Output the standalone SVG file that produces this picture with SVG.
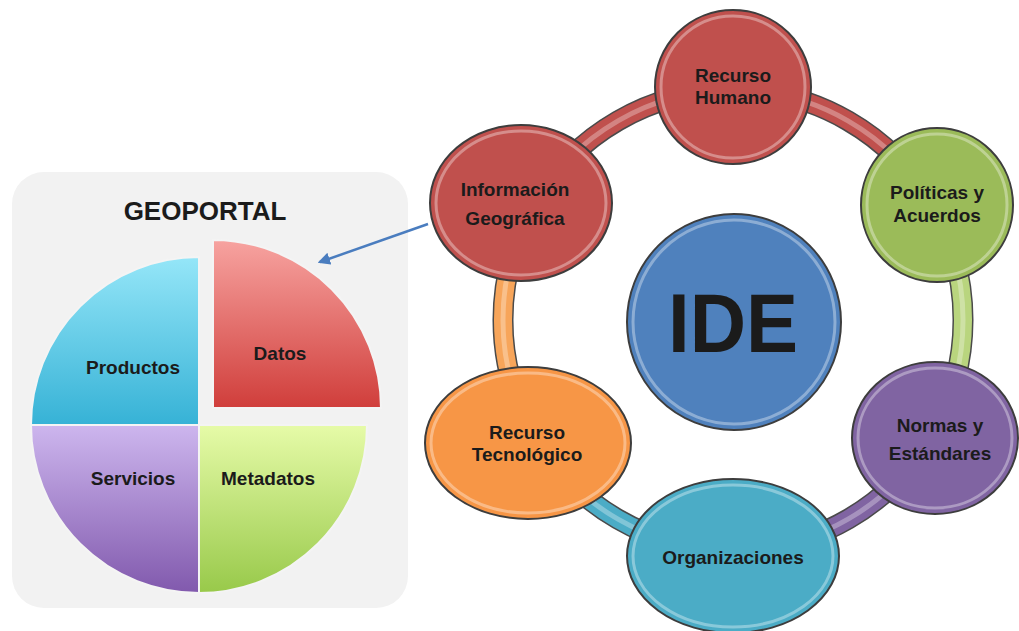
<svg xmlns="http://www.w3.org/2000/svg" width="1019" height="631" viewBox="0 0 1019 631">
<defs>
<style>
.lbl{font-family:"Liberation Sans",Arial,sans-serif;font-weight:bold;fill:#1b1b1b;text-anchor:middle}
.node{stroke:#3d3d3d;stroke-width:2}
.hl{fill:none;stroke:#ffffff;stroke-opacity:0.35;stroke-width:3}
.slice{stroke:#f4f4f4;stroke-width:2}
.bandOut{fill:none;stroke:#4a4a4a;stroke-width:21}
.band{fill:none;stroke-width:18}
.bandHl{fill:none;stroke:#ffffff;stroke-opacity:0.3;stroke-width:5}
</style>
<linearGradient id="gProd" x1="0" y1="0" x2="0" y2="1"><stop offset="0" stop-color="#95e6f8"/><stop offset="1" stop-color="#36b2d6"/></linearGradient>
<linearGradient id="gDatos" x1="0" y1="0" x2="0" y2="1"><stop offset="0" stop-color="#f7a3a0"/><stop offset="1" stop-color="#d03e3b"/></linearGradient>
<linearGradient id="gServ" x1="0" y1="0" x2="0" y2="1"><stop offset="0" stop-color="#cdb6ee"/><stop offset="1" stop-color="#8159ad"/></linearGradient>
<linearGradient id="gMeta" x1="0" y1="0" x2="0" y2="1"><stop offset="0" stop-color="#e6fba8"/><stop offset="1" stop-color="#98c94a"/></linearGradient>
<marker id="arr" viewBox="0 0 10 10" refX="8" refY="5" markerWidth="5" markerHeight="5" orient="auto"><path d="M0,0 L10,5 L0,10 Z" fill="#4a7dbf"/></marker>
</defs>
<rect width="1019" height="631" fill="#ffffff"/>

<g id="geoportal">
<rect x="12" y="172" width="396" height="436" rx="32" fill="#f2f2f2"/>
<text class="lbl" x="205" y="220" font-size="26">GEOPORTAL</text>
</g>

<g id="productos">
<path class="slice" d="M199,425 L31,425 A168,168 0 0 1 199,257 Z" fill="url(#gProd)"/>
<text class="lbl" x="133" y="374" font-size="19">Productos</text>
</g>
<g id="datos">
<path class="slice" d="M213,408 L213,240 A168,168 0 0 1 381,408 Z" fill="url(#gDatos)"/>
<text class="lbl" x="280" y="360" font-size="19">Datos</text>
</g>
<g id="servicios">
<path class="slice" d="M199,425 L199,593 A168,168 0 0 1 31,425 Z" fill="url(#gServ)"/>
<text class="lbl" x="133" y="485" font-size="19">Servicios</text>
</g>
<g id="metadatos">
<path class="slice" d="M199,425 L367,425 A168,168 0 0 1 199,593 Z" fill="url(#gMeta)"/>
<text class="lbl" x="268" y="485" font-size="19">Metadatos</text>
</g>

<g id="connectors">
<line x1="428" y1="224" x2="320" y2="262" stroke="#4a7dbf" stroke-width="2.5" marker-end="url(#arr)"/>
<g id="ring">
<path class="bandOut" d="M733,90 A230,230 0 0 1 932.2,205"/>
<path class="band" stroke="#c0504d" d="M733,90 A230,230 0 0 1 932.2,205"/>
<path class="bandHl" d="M733,90 A230,230 0 0 1 932.2,205"/>
<path class="bandOut" d="M932.2,205 A230,230 0 0 1 932.2,435"/>
<path class="band" stroke="#b9d57e" d="M932.2,205 A230,230 0 0 1 932.2,435"/>
<path class="bandHl" d="M932.2,205 A230,230 0 0 1 932.2,435"/>
<path class="bandOut" d="M932.2,435 A230,230 0 0 1 733,550"/>
<path class="band" stroke="#8064a2" d="M932.2,435 A230,230 0 0 1 733,550"/>
<path class="bandHl" d="M932.2,435 A230,230 0 0 1 733,550"/>
<path class="bandOut" d="M733,550 A230,230 0 0 1 533.8,435"/>
<path class="band" stroke="#4bacc6" d="M733,550 A230,230 0 0 1 533.8,435"/>
<path class="bandHl" d="M733,550 A230,230 0 0 1 533.8,435"/>
<path class="bandOut" d="M533.8,435 A230,230 0 0 1 533.8,205"/>
<path class="band" stroke="#f7a55a" d="M533.8,435 A230,230 0 0 1 533.8,205"/>
<path class="bandHl" d="M533.8,435 A230,230 0 0 1 533.8,205"/>
<path class="bandOut" d="M533.8,205 A230,230 0 0 1 733,90"/>
<path class="band" stroke="#c0504d" d="M533.8,205 A230,230 0 0 1 733,90"/>
<path class="bandHl" d="M533.8,205 A230,230 0 0 1 733,90"/>
</g>
</g>

<g id="recurso-humano">
<ellipse class="node" cx="733" cy="87" rx="78" ry="77" fill="#c0504d"/>
<ellipse class="hl" cx="733" cy="87" rx="72" ry="71"/>
<text class="lbl" x="733" y="82" font-size="19">Recurso</text>
<text class="lbl" x="733" y="104" font-size="19">Humano</text>
</g>
<g id="informacion-geografica">
<ellipse class="node" cx="521" cy="203" rx="91" ry="78" fill="#c0504d"/>
<ellipse class="hl" cx="521" cy="203" rx="85" ry="72"/>
<text class="lbl" x="515" y="196" font-size="19">Información</text>
<text class="lbl" x="515" y="225" font-size="19">Geográfica</text>
</g>
<g id="politicas-acuerdos">
<ellipse class="node" cx="937" cy="205" rx="76" ry="77" fill="#9bbb59"/>
<ellipse class="hl" cx="937" cy="205" rx="70" ry="71"/>
<text class="lbl" x="937" y="199" font-size="19">Políticas y</text>
<text class="lbl" x="937" y="222" font-size="19">Acuerdos</text>
</g>
<g id="ide">
<ellipse class="node" cx="734" cy="322" rx="107" ry="108" fill="#4f81bd"/>
<ellipse class="hl" cx="734" cy="322" rx="101" ry="102"/>
<text class="lbl" x="733" y="352" font-size="84" textLength="130" lengthAdjust="spacingAndGlyphs" fill="#111111">IDE</text>
</g>
<g id="normas-estandares">
<ellipse class="node" cx="935" cy="438" rx="83" ry="76" fill="#8064a2"/>
<ellipse class="hl" cx="935" cy="438" rx="77" ry="70"/>
<text class="lbl" x="940" y="432" font-size="19">Normas y</text>
<text class="lbl" x="940" y="460" font-size="19">Estándares</text>
</g>
<g id="organizaciones">
<ellipse class="node" cx="733" cy="556" rx="106" ry="77" fill="#4bacc6"/>
<ellipse class="hl" cx="733" cy="556" rx="100" ry="71"/>
<text class="lbl" x="733" y="564" font-size="19">Organizaciones</text>
</g>
<g id="recurso-tecnologico">
<ellipse class="node" cx="528" cy="443" rx="103" ry="76" fill="#f79646"/>
<ellipse class="hl" cx="528" cy="443" rx="97" ry="70"/>
<text class="lbl" x="527" y="439" font-size="19">Recurso</text>
<text class="lbl" x="527" y="461" font-size="19">Tecnológico</text>
</g>
</svg>
